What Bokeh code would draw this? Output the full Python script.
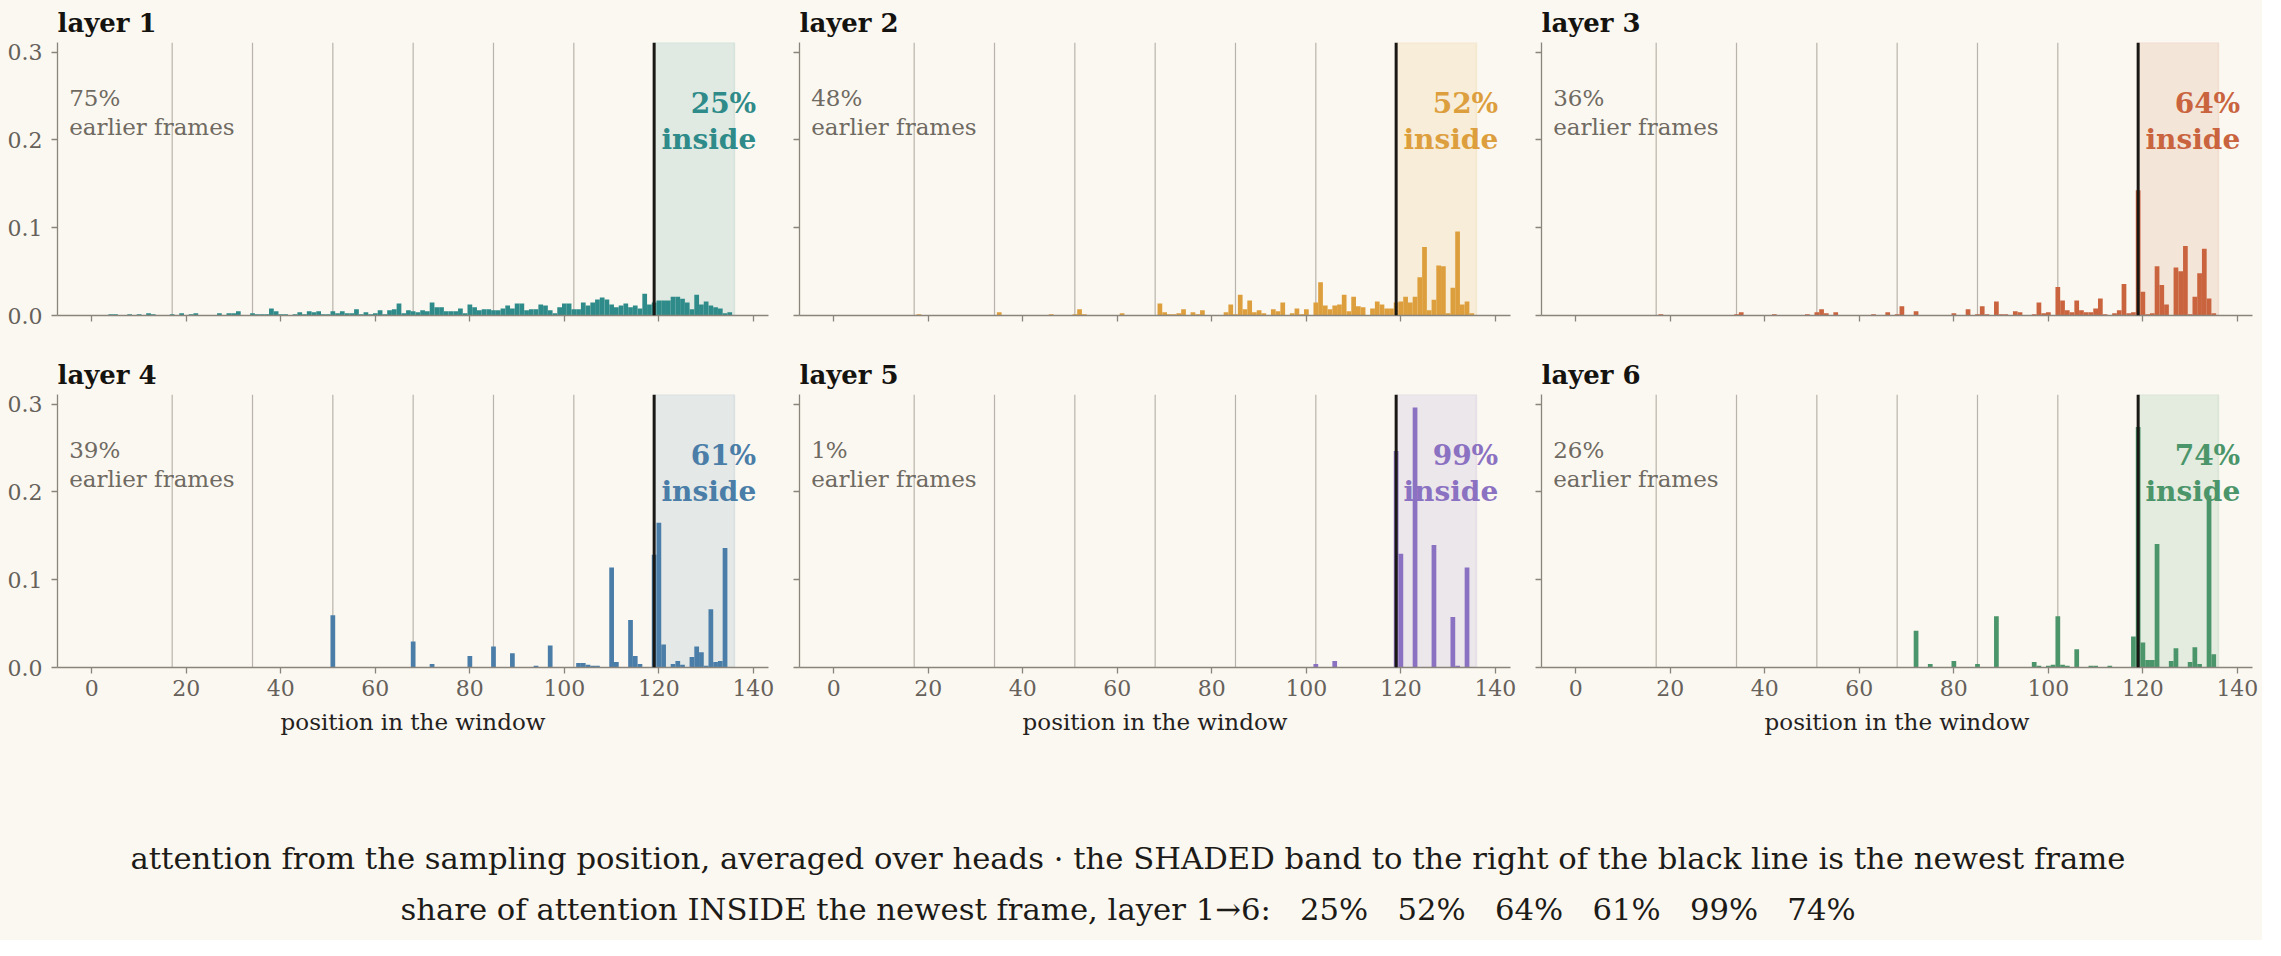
from bokeh.plotting import figure
from bokeh.models import (Range1d, Span, BoxAnnotation, Label, FixedTicker,
                          CustomJSTickFormatter, ColumnDataSource)
from bokeh.layouts import column, row
from bokeh.embed import file_html
from bokeh.resources import INLINE

# ---------------- data ----------------
positions = list(range(136))
frame_lines = [17, 34, 51, 68, 85, 102]
newest_start = 119
newest_end = 136
x_ticks = [0, 20, 40, 60, 80, 100, 120, 140]
y_ticks = [0.0, 0.1, 0.2, 0.3]

layer_names = ["layer 1", "layer 2", "layer 3", "layer 4", "layer 5", "layer 6"]
inside_share = [25, 52, 64, 61, 99, 74]
earlier_share = [75, 48, 36, 39, 1, 26]

layer1 = [
    0.0005, 0.0005, 0.0005, 0.0005, 0.0015, 0.0015, 0.0005, 0.0005, 0.0015, 0.0005, 0.0015, 0.0005, 0.0026, 0.0015, 0.0005, 0.0005, 0.0005,
    0.0015, 0.0005, 0.0026, 0.0005, 0.0015, 0.0026, 0.0005, 0.0005, 0.0005, 0.0005, 0.0026, 0.0005, 0.0026, 0.0026, 0.0048, 0.0005, 0.0005,
    0.0026, 0.0015, 0.0015, 0.0015, 0.0081, 0.0048, 0.0015, 0.0015, 0.0005, 0.0015, 0.0037, 0.0015, 0.0048, 0.0037, 0.0048, 0.0015, 0.0015,
    0.0048, 0.0026, 0.0048, 0.0026, 0.0026, 0.0070, 0.0015, 0.0037, 0.0015, 0.0026, 0.0059, 0.0015, 0.0059, 0.0070, 0.0137, 0.0026, 0.0059,
    0.0048, 0.0037, 0.0059, 0.0048, 0.0148, 0.0093, 0.0093, 0.0048, 0.0048, 0.0048, 0.0081, 0.0026, 0.0126, 0.0093, 0.0059, 0.0070, 0.0070,
    0.0059, 0.0059, 0.0081, 0.0115, 0.0081, 0.0137, 0.0137, 0.0059, 0.0070, 0.0070, 0.0126, 0.0115, 0.0059, 0.0026, 0.0093, 0.0137, 0.0137,
    0.0070, 0.0070, 0.0148, 0.0115, 0.0148, 0.0181, 0.0204, 0.0181, 0.0126, 0.0093, 0.0115, 0.0137, 0.0093, 0.0115, 0.0081, 0.0248, 0.0126,
    0.0148, 0.0170, 0.0170, 0.0170, 0.0215, 0.0215, 0.0190, 0.0148, 0.0070, 0.0237, 0.0126, 0.0160, 0.0115, 0.0093, 0.0081, 0.0026, 0.0037,
]
layer2 = [
    0, 0, 0, 0, 0, 0, 0, 0, 0, 0, 0, 0, 0, 0, 0, 0, 0,
    0, 0.0015, 0, 0, 0, 0, 0, 0, 0, 0, 0, 0, 0, 0, 0, 0, 0,
    0, 0.0037, 0.0004, 0.0004, 0.0004, 0.0004, 0, 0, 0, 0, 0.0004, 0, 0.0015, 0, 0, 0, 0,
    0.0015, 0.0070, 0.0015, 0.0004, 0.0004, 0.0004, 0.0004, 0.0004, 0, 0, 0.0026, 0, 0.0004, 0.0004, 0, 0.0004, 0,
    0.0004, 0.0137, 0.0037, 0.0015, 0.0015, 0.0026, 0.0070, 0.0004, 0.0037, 0.0015, 0.0059, 0, 0.0004, 0.0004, 0.0004, 0.0037, 0.0126,
    0.0015, 0.0237, 0.0070, 0.0170, 0.0037, 0.0059, 0.0026, 0.0004, 0.0070, 0.0048, 0.0148, 0.0004, 0.0026, 0.0081, 0.0015, 0.0070, 0.0004,
    0.0148, 0.0380, 0.0115, 0.0070, 0.0115, 0.0126, 0.0237, 0.0048, 0.0215, 0.0104, 0.0093, 0.0004, 0.0081, 0.0159, 0.0126, 0.0081, 0.0081,
    0.0148, 0.0159, 0.0215, 0.0148, 0.0215, 0.0437, 0.0780, 0.0059, 0.0180, 0.0570, 0.0560, 0.0026, 0.0315, 0.0956, 0.0126, 0.0159, 0.0026,
]
layer3 = [
    0, 0.0004, 0, 0, 0, 0, 0, 0, 0, 0, 0, 0, 0.0004, 0, 0, 0, 0,
    0.0004, 0.0015, 0, 0, 0.0004, 0, 0, 0, 0, 0, 0, 0, 0, 0, 0, 0.0004, 0,
    0.0015, 0.0037, 0, 0, 0.0004, 0, 0, 0, 0.0015, 0, 0, 0, 0.0004, 0, 0, 0.0015, 0,
    0.0037, 0.0070, 0.0026, 0, 0.0037, 0, 0.0004, 0, 0.0004, 0, 0, 0, 0.0015, 0, 0, 0.0037, 0,
    0.0015, 0.0104, 0, 0, 0.0048, 0.0004, 0.0004, 0.0004, 0.0004, 0.0004, 0.0004, 0, 0.0026, 0.0004, 0.0004, 0.0070, 0.0004,
    0.0015, 0.0104, 0.0015, 0.0004, 0.0159, 0.0015, 0.0015, 0.0004, 0.0048, 0.0037, 0.0004, 0, 0.0015, 0.0148, 0.0026, 0.0037, 0.0004,
    0.0326, 0.0170, 0.0059, 0.0037, 0.0170, 0.0059, 0.0037, 0.0037, 0.0081, 0.0193, 0.0015, 0.0004, 0.0026, 0.0059, 0.0359, 0.0026, 0.0037,
    0.1426, 0.0270, 0.0015, 0.0026, 0.0560, 0.0348, 0.0126, 0.0004, 0.0548, 0.0504, 0.0793, 0.0015, 0.0215, 0.0481, 0.0759, 0.0193, 0.0026,
]
layer4 = [
    0, 0, 0, 0, 0, 0, 0, 0, 0, 0, 0, 0, 0, 0, 0, 0, 0,
    0, 0, 0, 0, 0, 0, 0, 0, 0, 0, 0, 0, 0, 0, 0, 0, 0,
    0, 0, 0, 0, 0, 0, 0, 0, 0, 0, 0, 0, 0, 0, 0, 0, 0,
    0.0596, 0, 0, 0, 0, 0, 0, 0, 0, 0, 0, 0, 0.0004, 0, 0, 0, 0,
    0.0296, 0, 0, 0, 0.0041, 0, 0, 0, 0, 0, 0, 0, 0.0130, 0, 0, 0, 0,
    0.0240, 0, 0.0004, 0.0004, 0.0163, 0.0004, 0.0004, 0, 0.0004, 0.0019, 0, 0, 0.0252, 0.0004, 0, 0, 0,
    0.0004, 0.0052, 0.0052, 0.0030, 0.0019, 0.0019, 0, 0, 0.1140, 0.0063, 0.0004, 0, 0.0540, 0.0130, 0.0041, 0, 0,
    0.1285, 0.1650, 0.0263, 0.0004, 0.0041, 0.0074, 0.0030, 0.0004, 0.0119, 0.0240, 0.0174, 0.0019, 0.0663, 0.0063, 0.0074, 0.1360, 0.0004,
]
layer5 = [
    0, 0, 0, 0, 0, 0, 0, 0, 0, 0, 0, 0, 0, 0, 0, 0, 0,
    0, 0, 0, 0, 0, 0, 0, 0, 0, 0, 0, 0, 0, 0, 0, 0, 0,
    0, 0, 0, 0, 0, 0, 0, 0, 0, 0, 0, 0, 0, 0, 0, 0, 0,
    0, 0, 0, 0, 0, 0, 0, 0, 0, 0, 0, 0, 0, 0, 0, 0, 0,
    0, 0, 0, 0, 0, 0, 0, 0, 0, 0, 0, 0, 0, 0, 0, 0, 0,
    0, 0, 0, 0, 0, 0, 0, 0, 0, 0, 0, 0, 0, 0, 0, 0, 0,
    0.0041, 0, 0, 0, 0.0074, 0, 0, 0, 0, 0, 0, 0, 0, 0, 0, 0, 0,
    0.2467, 0.1296, 0, 0, 0.2963, 0.0004, 0, 0, 0.1396, 0.0004, 0, 0, 0.0574, 0.0019, 0, 0.1140, 0.0004,
]
layer6 = [
    0, 0, 0, 0, 0, 0, 0, 0, 0, 0, 0, 0, 0, 0, 0, 0, 0,
    0, 0, 0, 0, 0, 0, 0, 0, 0, 0, 0, 0, 0, 0, 0, 0, 0,
    0, 0, 0, 0, 0, 0, 0, 0, 0, 0, 0, 0, 0, 0, 0, 0, 0,
    0, 0, 0, 0, 0, 0, 0, 0, 0, 0, 0, 0, 0, 0, 0, 0, 0,
    0, 0, 0, 0, 0.0419, 0, 0, 0.0041, 0, 0, 0, 0, 0.0074, 0, 0, 0, 0.0004,
    0.0041, 0, 0, 0.0004, 0.0585, 0, 0, 0, 0.0004, 0, 0, 0.0004, 0.0063, 0.0019, 0, 0.0019, 0.0030,
    0.0585, 0.0030, 0.0019, 0, 0.0207, 0, 0, 0.0019, 0.0019, 0, 0, 0.0019, 0.0004, 0.0004, 0, 0.0004, 0.0352,
    0.2740, 0.0285, 0.0085, 0.0085, 0.1407, 0.0004, 0, 0.0074, 0.0219, 0.0004, 0, 0.0063, 0.0230, 0.0041, 0, 0.1960, 0.0152,
]
layers = [layer1, layer2, layer3, layer4, layer5, layer6]
colors = ["#2e8b89", "#dd9f3d", "#c9643f", "#4a7ea8", "#8b71c1", "#4b956a"]

# ---------------- style ----------------
BG = "#fbf8f1"
FONT = "DejaVu Serif"
AXIS_C = "#8a857c"
TICK_TXT = "#66615a"
FRAME_W = 711
FRAME_H = 280


def make_panel(k, r, c):
    left = 57 if c == 0 else 21
    right = 10
    top = 35
    bottom = 37 if r == 0 else 80
    p = figure(width=left + FRAME_W + right, height=top + FRAME_H + bottom,
               x_range=Range1d(-7.27, 143.2), y_range=Range1d(0, 0.311),
               output_backend="svg", toolbar_location=None,
               min_border_left=left, min_border_right=right,
               min_border_top=top, min_border_bottom=bottom,
               background_fill_color=BG, border_fill_color=BG,
               outline_line_color=None)
    p.title.text = layer_names[k]
    p.title.text_font = FONT
    p.title.text_font_size = "26px"
    p.title.text_font_style = "bold"
    p.title.text_color = "#151310"
    p.title.align = "left"
    p.xgrid.visible = False
    p.ygrid.visible = False

    for v in frame_lines:
        p.add_layout(Span(location=v, dimension="height", line_color="#b9b4ab",
                          line_width=1.2, level="underlay"))
    p.add_layout(BoxAnnotation(left=newest_start, right=newest_end,
                               fill_color=colors[k], fill_alpha=0.13,
                               line_color=colors[k], line_alpha=0.12,
                               line_width=1.5, level="underlay"))

    src = ColumnDataSource(dict(x=positions, top=layers[k]))
    p.vbar(x="x", top="top", width=1.0, source=src, fill_color=colors[k],
           line_color=None)

    p.add_layout(Span(location=newest_start, dimension="height",
                      line_color="#1a1815", line_width=3))

    for ax in (p.xaxis[0], p.yaxis[0]):
        ax.axis_line_color = AXIS_C
        ax.axis_line_width = 1.3
        ax.major_tick_line_color = AXIS_C
        ax.major_tick_line_width = 1.3
        ax.major_tick_out = 6
        ax.major_tick_in = 0
        ax.minor_tick_line_color = None
        ax.major_label_text_font = FONT
        ax.major_label_text_font_size = "22px"
        ax.major_label_text_color = TICK_TXT
    p.xaxis.ticker = FixedTicker(ticks=x_ticks)
    p.yaxis.ticker = FixedTicker(ticks=y_ticks)
    p.yaxis.major_label_standoff = 9
    p.xaxis.major_label_standoff = 6
    if c == 0:
        p.yaxis.formatter = CustomJSTickFormatter(code="return tick.toFixed(1)")
    else:
        p.yaxis.formatter = CustomJSTickFormatter(code="return ''")
    if r == 0:
        p.xaxis.formatter = CustomJSTickFormatter(code="return ''")
    else:
        p.xaxis.axis_label = "position in the window"
        p.xaxis.axis_label_text_font = FONT
        p.xaxis.axis_label_text_font_size = "23px"
        p.xaxis.axis_label_text_font_style = "normal"
        p.xaxis.axis_label_text_color = "#24211d"
        p.xaxis.axis_label_standoff = 10

    gray = "#6f6a62"
    p.add_layout(Label(x=-4.8, y=0.2474, text=f"{earlier_share[k]}%",
                       text_font=FONT, text_font_size="23px", text_color=gray,
                       text_baseline="alphabetic", text_align="left"))
    p.add_layout(Label(x=-4.8, y=0.2152, text="earlier frames",
                       text_font=FONT, text_font_size="23px", text_color=gray,
                       text_baseline="alphabetic", text_align="left"))
    p.add_layout(Label(x=140.6, y=0.2411, text=f"{inside_share[k]}%",
                       text_font=FONT, text_font_size="28px", text_font_style="bold",
                       text_color=colors[k], text_baseline="alphabetic", text_align="right"))
    p.add_layout(Label(x=140.6, y=0.2004, text="inside",
                       text_font=FONT, text_font_size="28px", text_font_style="bold",
                       text_color=colors[k], text_baseline="alphabetic", text_align="right"))
    return p


panels = [make_panel(k, k // 3, k % 3) for k in range(6)]

FOOT_W = 2262
FOOT_H = 193
foot = figure(width=FOOT_W, height=FOOT_H, x_range=Range1d(0, FOOT_W),
              y_range=Range1d(0, FOOT_H), output_backend="svg",
              toolbar_location=None, x_axis_type=None, y_axis_type=None,
              min_border=0, background_fill_color=BG, border_fill_color=BG,
              outline_line_color=None)
foot.xgrid.visible = False
foot.ygrid.visible = False
GAP = " \u00a0 "
line1 = ("attention from the sampling position, averaged over heads \u00b7 "
         "the SHADED band to the right of the black line is the newest frame")
line2 = ("share of attention INSIDE the newest frame, layer 1\u21926:" + GAP
         + GAP.join(f"{v}%" for v in inside_share))
foot.add_layout(Label(x=1127.5, y=82, text=line1, text_font=FONT,
                      text_font_size="30.7px", text_color="#1d1b18",
                      text_align="center", text_baseline="middle"))
foot.add_layout(Label(x=1127.5, y=31, text=line2, text_font=FONT,
                      text_font_size="30.7px", text_color="#1d1b18",
                      text_align="center", text_baseline="middle"))

layout = column(row(*panels[:3]), row(*panels[3:]), foot)
layout.background = BG

html = file_html(layout, INLINE)
html = html.replace("<body>", '<body style="background-color:#fbf8f1; margin:8px;">', 1)
open("out.html", "w").write(html)
